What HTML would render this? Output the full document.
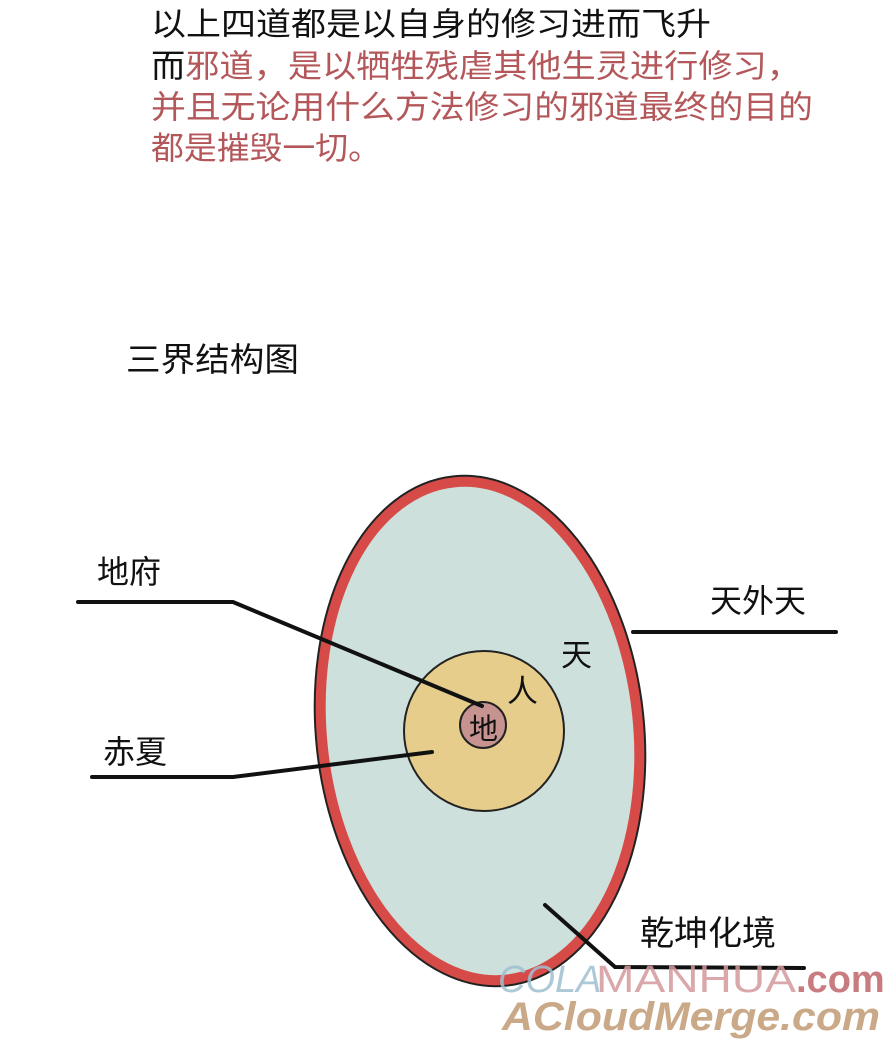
<!DOCTYPE html>
<html><head><meta charset="utf-8"><style>
html,body{margin:0;padding:0;background:#fff;}
svg{display:block}
text{font-family:"Liberation Sans","Noto Sans CJK SC",sans-serif;}
</style></head><body>
<svg width="896" height="1045" viewBox="0 0 896 1045" xmlns="http://www.w3.org/2000/svg">
<g font-size="32">
<text x="151" y="35" fill="#111" textLength="560" lengthAdjust="spacingAndGlyphs">以上四道都是以自身的修习进而飞升</text>
<text x="151" y="77" fill="#b3575a" textLength="650" lengthAdjust="spacingAndGlyphs"><tspan fill="#111">而</tspan>邪道，是以牺牲残虐其他生灵进行修习，</text>
<text x="151" y="118" fill="#b3575a" textLength="662" lengthAdjust="spacingAndGlyphs">并且无论用什么方法修习的邪道最终的目的</text>
<text x="151" y="159" fill="#b3575a" textLength="230" lengthAdjust="spacingAndGlyphs">都是摧毁一切。</text>
</g>
<text x="126" y="371" font-size="33" fill="#111" textLength="173" lengthAdjust="spacingAndGlyphs">三界结构图</text>

<ellipse cx="480" cy="731" rx="158" ry="250" transform="rotate(-6 480 731)" fill="#cde0dc" stroke="#222" stroke-width="14"/>
<ellipse cx="480" cy="731" rx="158" ry="250" transform="rotate(-6 480 731)" fill="#cde0dc" stroke="#d64b47" stroke-width="10"/>
<circle cx="484" cy="731" r="80" fill="#e6cd8b" stroke="#222" stroke-width="2"/>
<circle cx="483" cy="725" r="23" fill="#c69390" stroke="#222" stroke-width="2"/>

<g stroke="#111" stroke-width="4" fill="none" stroke-linecap="round">
<polyline points="78,602 233,602 482,706"/>
<polyline points="92,777 233,777 432,752"/>
<line x1="633" y1="632" x2="836" y2="632"/>
<polyline points="545,905 615,967 804,968"/>
</g>

<text x="469" y="739" font-size="29" fill="#111">地</text>
<text x="507" y="702" font-size="31" fill="#111">人</text>
<text x="561" y="666" font-size="31" fill="#111">天</text>
<text x="97" y="583" font-size="32" fill="#111">地府</text>
<text x="103" y="763" font-size="32" fill="#111">赤夏</text>
<text x="710" y="612" font-size="32" fill="#111">天外天</text>
<text x="640" y="945" font-size="34" fill="#111">乾坤化境</text>

<text x="498" y="992" font-size="38" font-family="Liberation Serif,serif" font-style="italic" fill="#9fc0d2" opacity="0.85">COLA</text>
<text x="596" y="992" font-size="38" font-family="Liberation Serif,serif" fill="#d49a9d" opacity="0.85" textLength="200" lengthAdjust="spacingAndGlyphs">MANHUA</text>
<text x="796" y="992" font-size="38" font-weight="bold" font-family="Liberation Sans,sans-serif" fill="#c97c80">.com</text>
<text x="502" y="1030" font-size="40" font-weight="bold" font-style="italic" font-family="Liberation Sans,sans-serif" fill="#c9a987" textLength="378" lengthAdjust="spacingAndGlyphs">ACloudMerge.com</text>
</svg>
</body></html>
